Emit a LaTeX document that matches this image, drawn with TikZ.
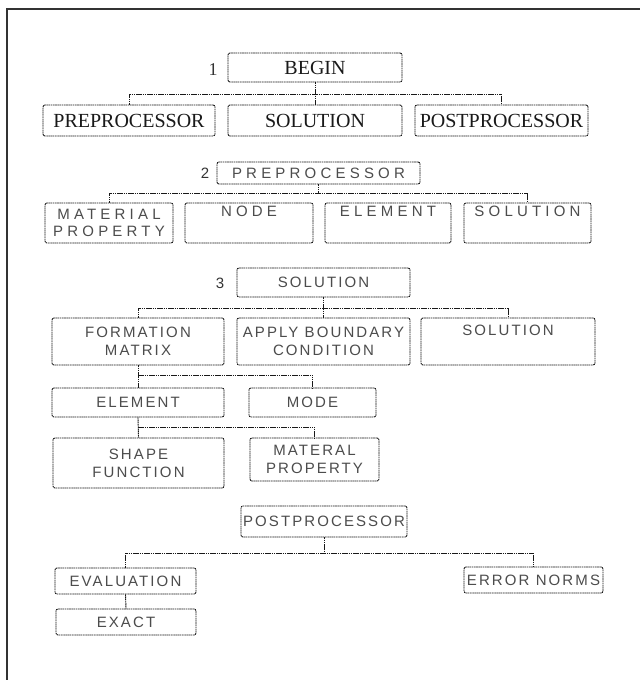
\documentclass[tikz,border=0pt]{standalone}
\usepackage{fontspec}
\setmainfont{Liberation Serif}
\newfontfamily\wideA[LetterSpace=28]{Liberation Sans}
\newfontfamily\wideB[LetterSpace=14]{Liberation Sans}
\tikzset{
  frm/.style={draw=black!90, line width=0.9pt, dash pattern=on 1.6pt off 0.6pt,
    rounded corners=2pt, inner sep=0pt, align=center},
  boxA/.style={frm, font=\fontsize{20}{22}\selectfont, text=black!90},
  boxB/.style={frm, font=\wideA\fontsize{15}{17.5}\selectfont, text=black!70},
  boxC/.style={frm, font=\wideB\fontsize{15}{18}\selectfont, text=black!70},
  conn/.style={draw=black!90, line width=0.9pt, dash pattern=on 1.6pt off 0.6pt},
  lbl/.style={inner sep=0pt, text=black!80}
}
\begin{document}
\begin{tikzpicture}[x=1pt,y=-1pt]
\useasboundingbox (0,0) rectangle (640,680);
\fill[white] (0,0) rectangle (640,680);
\draw[line width=1.2pt, black!80] (7,680) -- (7,9) -- (640,9);

% ---- part 1
\node[lbl, font=\fontsize{18}{20}\selectfont] (l1) at (213,70) {1};
\node[boxA, minimum width=174, minimum height=29] (begin) at (315,67.5) {BEGIN};
\node[boxA, minimum width=172, minimum height=31] (pre1) at (129,120.5) {PREPROCESSOR};
\node[boxA, minimum width=174, minimum height=31] (sol1) at (315,120.5) {SOLUTION};
\node[boxA, minimum width=173, minimum height=31] (post1) at (501.5,120.5) {POSTPROCESSOR};
\coordinate (bus1) at (315,94);
\draw[conn] (begin.south) -- (sol1.north);
\draw[conn] (pre1.north) -- (pre1.north |- bus1) -- (post1.north |- bus1) -- (post1.north);

% ---- part 2
\node[lbl, font=\wideB\fontsize{15}{17}\selectfont] (l2) at (205,173) {2};
\node[boxB, minimum width=203, minimum height=22] (pre2) at (318.5,173) {PREPROCESSOR};
\node[boxB, minimum width=128, minimum height=40] (mat2) at (109,223) {MATERIAL\\PROPERTY};
\node[boxB, minimum width=128, minimum height=40] (node2) at (249,223) {NODE\\\strut};
\node[boxB, minimum width=126, minimum height=40] (elem2) at (388,223) {ELEMENT\\\strut};
\node[boxB, minimum width=127, minimum height=40] (sol2) at (527.5,223) {SOLUTION\\\strut};
\coordinate (bus2) at (318.5,193);
\draw[conn] (pre2.south) -- (bus2);
\draw[conn] (mat2.north) -- (mat2.north |- bus2) -- (sol2.north |- bus2) -- (sol2.north);

% ---- part 3
\node[lbl, font=\wideB\fontsize{15}{17}\selectfont] (l3) at (220,283) {3};
\node[boxC, minimum width=173, minimum height=29] (sol3h) at (323.5,282.5) {SOLUTION};
\node[boxC, minimum width=172, minimum height=47] (form) at (138,341.5) {FORMATION\\MATRIX};
\node[boxC, minimum width=173, minimum height=47] (apply) at (323.5,341.5) {APPLY BOUNDARY\\CONDITION};
\node[boxC, minimum width=174, minimum height=47] (sol3) at (508,341.5) {SOLUTION\\\strut};
\coordinate (bus3) at (323.5,308);
\draw[conn] (sol3h.south) -- (apply.north);
\draw[conn] (form.north) -- (form.north |- bus3) -- (sol3.north |- bus3) -- (sol3.north);

\node[boxC, minimum width=172, minimum height=29] (elem3) at (138,402.5) {ELEMENT};
\node[boxC, minimum width=127, minimum height=29] (mode) at (312.5,402.5) {MODE};
\coordinate (bus4) at (138,375);
\draw[conn] (form.south) -- (elem3.north);
\draw[conn] (bus4) -- (bus4 -| mode.north) -- (mode.north);

\node[boxC, minimum width=171, minimum height=50] (shape) at (138.5,463) {SHAPE\\FUNCTION};
\node[boxC, minimum width=129, minimum height=43] (mat3) at (314.5,459.5) {MATERAL\\PROPERTY};
\coordinate (bus5) at (138,427);
\draw[conn] (elem3.south) -- (shape.north);
\draw[conn] (bus5) -- (bus5 -| mat3.north) -- (mat3.north);

% ---- part 4
\node[boxC, minimum width=166, minimum height=31] (post3) at (324,521.5) {POSTPROCESSOR};
\node[boxC, minimum width=141, minimum height=26] (eval) at (125.5,581) {EVALUATION};
\node[boxC, minimum width=139, minimum height=26] (err) at (533.5,580) {ERROR NORMS};
\node[boxC, minimum width=140, minimum height=26] (exact) at (126,622) {EXACT};
\coordinate (bus6) at (324,553);
\draw[conn] (post3.south) -- (bus6);
\draw[conn] (eval.north) -- (eval.north |- bus6) -- (err.north |- bus6) -- (err.north);
\draw[conn] (eval.south) -- (exact.north);
\end{tikzpicture}
\end{document}
